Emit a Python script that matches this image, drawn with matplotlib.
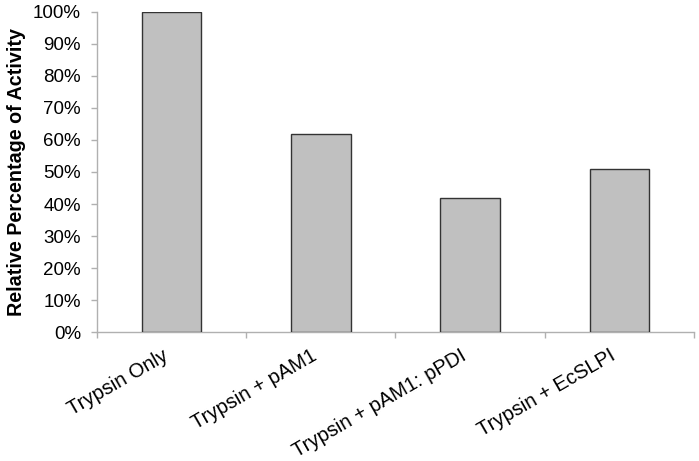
import matplotlib
matplotlib.use("Agg")
import matplotlib.pyplot as plt
import matplotlib.transforms as mtransforms
from matplotlib.ticker import FuncFormatter, MultipleLocator

categories = ["Trypsin Only", "Trypsin + pAM1", "Trypsin + pAM1: pPDI", "Trypsin + EcSLPI"]
activity = [100, 62, 42, 51]

plt.rcParams['font.family'] = ['Liberation Sans', 'DejaVu Sans']

fig = plt.figure(figsize=(6.99, 4.61), dpi=100)
ax = fig.add_axes([0.1388, 0.2798, 0.854, 0.6942])

x = list(range(len(categories)))
ax.bar(x, activity, width=0.4, color="#c0c0c0", edgecolor="#333333", linewidth=1.0, zorder=3)

ax.set_xlim(-0.5, len(categories) - 0.5)
ax.set_ylim(0, 100)
ax.yaxis.set_major_locator(MultipleLocator(10))
ax.yaxis.set_major_formatter(FuncFormatter(lambda v, p: f"{int(round(v))}%"))

ax.set_xticks(x)
ax.set_xticklabels(categories, rotation=30, ha="right", rotation_mode="anchor", fontsize=14.5)
ax.set_xticks([i - 0.5 for i in range(len(categories) + 1)], minor=True)
ax.tick_params(axis="x", which="major", length=0, pad=10)
ax.tick_params(axis="x", which="minor", length=4.5, color="#b0b0b0", width=1)
ax.tick_params(axis="y", labelsize=13.5, length=4.5, color="#b0b0b0", width=1, pad=7)

offset = mtransforms.ScaledTranslation(-10 / 100, 0, fig.dpi_scale_trans)
for lbl in ax.get_xticklabels():
    lbl.set_transform(lbl.get_transform() + offset)

for s in ("top", "right"):
    ax.spines[s].set_visible(False)
for s in ("left", "bottom"):
    ax.spines[s].set_color("#b0b0b0")
    ax.spines[s].set_linewidth(1)

ax.set_ylabel("Relative Percentage of Activity", fontsize=14.2, fontweight="bold", labelpad=5)

fig.savefig("out.png", dpi=100)
